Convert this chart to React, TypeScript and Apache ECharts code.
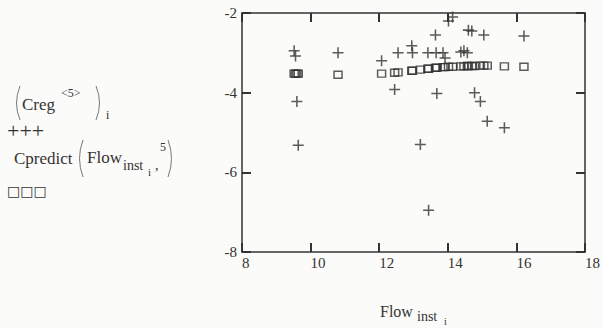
import React, { useEffect, useRef } from "react";
import * as echarts from "echarts";

const flowInst = [
  9.52, 9.56, 9.6, 9.64, 10.8, 12.07, 12.45, 12.55, 12.95, 12.97, 13.2, 13.42, 13.44,
  13.64, 13.66, 13.68, 13.86, 13.92, 14.02, 14.14, 14.38, 14.47, 14.57, 14.6, 14.7,
  14.78, 14.95, 15.05, 15.15, 15.65, 16.22,
];
const cregValues = [
  -2.95, -3.08, -4.22, -5.32, -3.0, -3.2, -3.92, -3.0, -2.82, -3.0, -5.3, -3.0, -6.95,
  -2.55, -3.0, -4.02, -3.0, -3.13, -2.2, -2.1, -2.98, -2.95, -3.0, -2.43, -2.45,
  -4.0, -4.22, -2.55, -4.72, -4.88, -2.58,
];
const cpredictValues = [
  -3.52, -3.52, -3.52, -3.52, -3.55, -3.52, -3.5, -3.49, -3.45, -3.45, -3.42, -3.4, -3.4,
  -3.38, -3.38, -3.37, -3.36, -3.36, -3.35, -3.35, -3.34, -3.34, -3.33, -3.33, -3.33,
  -3.33, -3.32, -3.32, -3.32, -3.34, -3.35,
];
const xTicks = { min: 8, max: 18, interval: 2 };
const yTicks = { min: -8, max: -2, interval: 2 };

const INK = "#333333";
const SERIF = '"Liberation Serif", "Times New Roman", serif';
const PLUS = "path://M0,4.3H10V5.7H0Z M4.3,0H5.7V10H4.3Z";

function txt(text: string, x: number, y: number, size: number) {
  return {
    type: "text",
    x,
    y,
    style: {
      text,
      font: `${size}px ${SERIF}`,
      fill: INK,
      align: "left",
      verticalAlign: "middle",
    },
  };
}
function paren(x: number, top: number, bottom: number, left: boolean) {
  const w = 5;
  const x0 = left ? x + w : x;
  const xc = left ? x - 2 : x + w + 2;
  return {
    type: "bezierCurve",
    shape: { x1: x0, y1: top, x2: x0, y2: bottom, cpx1: xc, cpy1: (top + bottom) / 2 },
    style: { stroke: "#777", lineWidth: 1, fill: "none" },
  };
}

export default function App() {
  const ref = useRef<HTMLDivElement>(null);
  useEffect(() => {
    const chart = echarts.init(ref.current!, null, { renderer: "svg" });
    const base = () => ({
      type: "value",
      splitLine: { show: false },
      axisLine: { show: true, onZero: false, lineStyle: { color: INK, width: 1.5 } },
      axisTick: { show: true, inside: true, length: 9, lineStyle: { color: INK, width: 2 } },
      minorTick: { show: false },
    });
    chart.setOption({
      animation: false,
      backgroundColor: "#fbfbf9",
      grid: { left: 242, right: 14, top: 13, bottom: 76, containLabel: false },
      xAxis: [
        {
          ...base(),
          position: "bottom",
          ...xTicks,
          axisLabel: { show: true, align: "left", margin: 3, color: INK, fontFamily: SERIF, fontSize: 15 },
        },
        { ...base(), position: "top", ...xTicks, axisLabel: { show: false } },
      ],
      yAxis: [
        {
          ...base(),
          position: "left",
          ...yTicks,
          axisLabel: { show: true, margin: 5, color: INK, fontFamily: SERIF, fontSize: 15 },
        },
        { ...base(), position: "right", ...yTicks, axisLabel: { show: false } },
      ],
      series: [
        {
          type: "scatter",
          name: "Creg",
          data: flowInst.map((f, i) => [f, cregValues[i]]),
          symbol: PLUS,
          symbolSize: 11,
          itemStyle: { color: INK },
          z: 3,
        },
        {
          type: "scatter",
          name: "Cpredict",
          data: flowInst.map((f, i) => [f, cpredictValues[i]]),
          symbol: "rect",
          symbolSize: [8, 7],
          itemStyle: { color: "transparent", borderColor: INK, borderWidth: 1.4 },
          z: 2,
        },
      ],
      graphic: [
        paren(15, 86, 120, true),
        txt("Creg", 22, 104, 17),
        txt("<5>", 61, 93, 12),
        paren(96, 86, 120, false),
        txt("i", 106, 115, 12),
        txt("+++", 7, 130, 22),
        txt("Cpredict", 14, 158, 17),
        paren(78, 140, 177, true),
        txt("Flow", 87, 157, 17),
        txt("inst", 123, 165, 14),
        txt("i", 148, 172, 11),
        txt(",", 155, 165, 14),
        txt("5", 160, 147, 12),
        paren(168, 140, 177, false),
        {
          type: "text",
          x: 7,
          y: 191,
          style: {
            text: "□□□",
            font: '14px "DejaVu Sans"',
            fill: INK,
            align: "left",
            verticalAlign: "middle",
          },
        },
        txt("Flow", 380, 311, 16),
        txt("inst", 417, 316, 14),
        txt("i", 444, 321, 10),
      ],
    });
    return () => chart.dispose();
  }, []);
  return <div ref={ref} style={{ width: 603, height: 328, position: "absolute", left: 0, top: 0 }} />;
}
